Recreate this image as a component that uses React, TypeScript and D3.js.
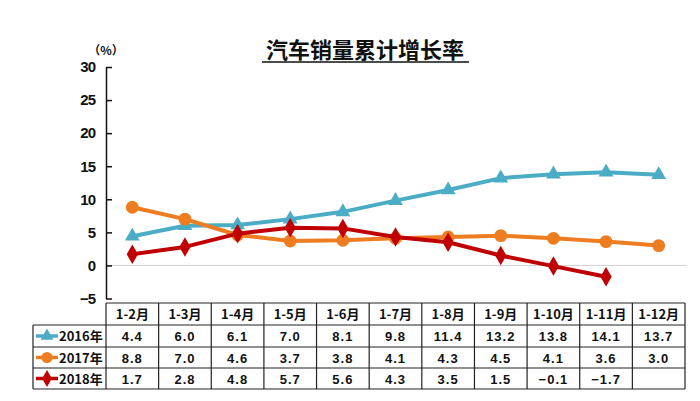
import { useEffect, useRef } from "react"
import * as d3 from "d3"

const months = ["1-2月", "1-3月", "1-4月", "1-5月", "1-6月", "1-7月", "1-8月", "1-9月", "1-10月", "1-11月", "1-12月"]
const years = ["2016年", "2017年", "2018年"]
const v2016 = [4.4, 6.0, 6.1, 7.0, 8.1, 9.8, 11.4, 13.2, 13.8, 14.1, 13.7]
const v2017 = [8.8, 7.0, 4.6, 3.7, 3.8, 4.1, 4.3, 4.5, 4.1, 3.6, 3.0]
const v2018: (number | null)[] = [1.7, 2.8, 4.8, 5.7, 5.6, 4.3, 3.5, 1.5, -0.1, -1.7, null]
const yTicks = [-5, 0, 5, 10, 15, 20, 25, 30]

const COLORS = ["#4BACC6", "#EE7D22", "#C00000"]
const SYMBOLS = [d3.symbolTriangle, d3.symbolCircle, d3.symbolDiamond]
const SIZES = [95, 130, 110]
const NUM = "'Liberation Sans', Arial, sans-serif"
const CJK = "'Noto Sans CJK SC', 'Liberation Sans', sans-serif"

export default function App() {
  const ref = useRef<SVGSVGElement>(null)
  useEffect(() => {
    if (!ref.current) return
    const svg = d3.select(ref.current)
    svg.selectAll("*").remove()
    svg.append("rect").attr("width", 700).attr("height", 401).attr("fill", "#fff")

    const x = d3.scaleBand().domain(months).range([106, 685]).padding(0)
    const y = d3.scaleLinear().domain([-5, 30]).range([298.5, 67])
    const cx = (m: string) => (x(m) as number) + x.bandwidth() / 2
    const series = [v2016, v2017, v2018]

    // title
    svg.append("text").attr("x", 365).attr("y", 58).attr("text-anchor", "middle")
      .style("font-family", CJK).style("font-weight", 700).style("font-size", "22px").style("fill", "#111")
      .text("汽车销量累计增长率")
    svg.append("line").attr("x1", 262).attr("x2", 469).attr("y1", 62).attr("y2", 62)
      .attr("stroke", "#111").attr("stroke-width", 1.5)

    // zero line
    svg.append("line").attr("x1", 106).attr("x2", 687).attr("y1", y(0)).attr("y2", y(0))
      .attr("stroke", "#d0d0d0").attr("stroke-width", 1)

    // y axis
    svg.append("g").attr("transform", "translate(106,0)")
      .call(d3.axisLeft(y).tickValues(yTicks).tickSizeInner(-6).tickSizeOuter(0).tickPadding(11))
      .call(g => {
        g.select(".domain").attr("stroke", "#111").attr("stroke-width", 1.5)
        g.selectAll("line").attr("stroke", "#111").attr("stroke-width", 1.5)
        g.selectAll("text").style("font-family", NUM).style("font-weight", 700).style("font-size", "15px")
          .style("fill", "#111").style("letter-spacing", "-1px")
      })
    svg.append("text").attr("x", 106).attr("y", 55).attr("text-anchor", "middle")
      .style("font-family", CJK).style("font-weight", 700).style("font-size", "12px").style("fill", "#111")
      .text("（%）")

    // lines + markers
    series.forEach((vals, i) => {
      const pts = months.map((m, j) => ({ m, v: vals[j] })).filter(d => d.v != null) as { m: string; v: number }[]
      const line = d3.line<{ m: string; v: number }>().x(d => cx(d.m)).y(d => y(d.v))
      svg.append("path").attr("d", line(pts)).attr("fill", "none").attr("stroke", COLORS[i])
        .attr("stroke-width", 4).attr("stroke-linejoin", "round")
      svg.append("g").selectAll("path").data(pts).join("path")
        .attr("transform", d => `translate(${cx(d.m)},${y(d.v)})`)
        .attr("d", d3.symbol(SYMBOLS[i], SIZES[i])).attr("fill", COLORS[i])
    })

    // data table
    const rowY = [303, 325, 347, 368, 389]
    const left = 33
    const tb = svg.append("g")
    const stroke = "#222"
    rowY.forEach((ry, k) => {
      tb.append("line").attr("x1", k === 0 ? 106 : left).attr("x2", 685).attr("y1", ry).attr("y2", ry)
        .attr("stroke", stroke).attr("stroke-width", 1.2)
    })
    tb.append("line").attr("x1", left).attr("x2", left).attr("y1", rowY[1]).attr("y2", rowY[4])
      .attr("stroke", stroke).attr("stroke-width", 1.2)
    months.forEach(m => {
      tb.append("line").attr("x1", x(m) as number).attr("x2", x(m) as number).attr("y1", rowY[0]).attr("y2", rowY[4])
        .attr("stroke", stroke).attr("stroke-width", 1.2)
    })
    tb.append("line").attr("x1", 685).attr("x2", 685).attr("y1", rowY[0]).attr("y2", rowY[4])
      .attr("stroke", stroke).attr("stroke-width", 1.2)

    months.forEach(m => {
      tb.append("text").attr("x", cx(m)).attr("y", (rowY[0] + rowY[1]) / 2 + 5).attr("text-anchor", "middle")
        .style("font-family", CJK).style("font-weight", 700).style("font-size", "13px").style("fill", "#111")
        .text(m)
    })
    const fmt = d3.format(".1f")
    series.forEach((vals, i) => {
      const my = (rowY[i + 1] + rowY[i + 2]) / 2
      tb.append("line").attr("x1", 36).attr("x2", 58).attr("y1", my).attr("y2", my)
        .attr("stroke", COLORS[i]).attr("stroke-width", 3.5)
      tb.append("path").attr("transform", `translate(47,${my})`).attr("d", d3.symbol(SYMBOLS[i], SIZES[i] * 0.75))
        .attr("fill", COLORS[i])
      tb.append("text").attr("x", 59).attr("y", my + 5)
        .style("font-family", CJK).style("font-weight", 700).style("font-size", "13px").style("fill", "#111")
        .text(years[i])
      months.forEach((m, j) => {
        const v = vals[j]
        if (v == null) return
        tb.append("text").attr("x", cx(m)).attr("y", my + 5).attr("text-anchor", "middle")
          .style("font-family", NUM).style("font-weight", 700).style("font-size", "13px").style("fill", "#111")
          .style("letter-spacing", "1px")
          .text(fmt(v))
      })
    })
  }, [])
  return <svg ref={ref} width={700} height={401} style={{ position: "absolute", left: 0, top: 0, display: "block" }} />
}
